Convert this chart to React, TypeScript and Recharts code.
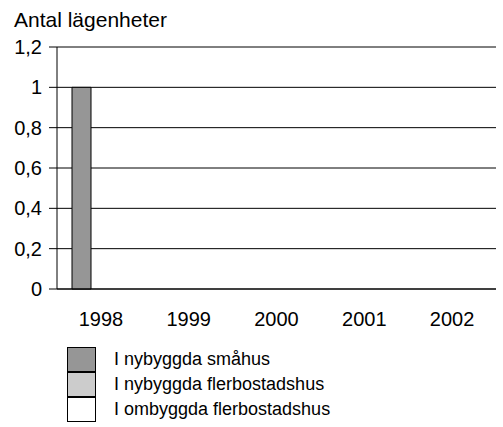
import { BarChart, Bar, XAxis, YAxis, CartesianGrid, Legend } from "recharts"

const years = ["1998", "1999", "2000", "2001", "2002"]
const nybyggdaSmahus = [1, 0, 0, 0, 0]
const nybyggdaFlerbostadshus = [0, 0, 0, 0, 0]
const ombyggdaFlerbostadshus = [0, 0, 0, 0, 0]
const yTicks = [0, 0.2, 0.4, 0.6, 0.8, 1, 1.2]
const seriesOrder = ["smahus", "fler", "om"]

const data = years.map((year, i) => ({
  year,
  smahus: nybyggdaSmahus[i],
  fler: nybyggdaFlerbostadshus[i],
  om: ombyggdaFlerbostadshus[i]
}))

const font = "'Liberation Sans', Arial, sans-serif"

function renderLegend(props: any) {
  // keep series order, not alphabetical
  const payload = [...props.payload].sort(
    (a: any, b: any) => seriesOrder.indexOf(a.dataKey) - seriesOrder.indexOf(b.dataKey)
  )
  return (
    <div style={{ fontFamily: font, fontSize: 18, color: "#000" }}>
      {payload.map((entry: any, i: number) => (
        <div key={i} style={{ display: "flex", alignItems: "center", height: 25 }}>
          <div
            style={{
              width: 29,
              height: 25,
              boxSizing: "border-box",
              background: entry.color,
              border: "1px solid #000",
              marginTop: i > 0 ? -1 : 0
            }}
          />
          <span style={{ marginLeft: 18, whiteSpace: "nowrap" }}>{entry.value}</span>
        </div>
      ))}
    </div>
  )
}

export default function App() {
  return (
    <div style={{ position: "absolute", left: 0, top: 0, width: 503, height: 427, background: "#fff" }}>
      <div
        style={{
          position: "absolute",
          left: 14,
          top: 9,
          fontFamily: font,
          fontSize: 21,
          lineHeight: "22px",
          color: "#000"
        }}
      >
        Antal lägenheter
      </div>
      <BarChart
        width={503}
        height={427}
        data={data}
        margin={{ top: 47, right: 7, bottom: 0, left: 0 }}
        barSize={19}
        barGap={0}
      >
        <CartesianGrid vertical={false} stroke="#000" strokeWidth={1} />
        <XAxis
          dataKey="year"
          axisLine={{ stroke: "#000" }}
          tickLine={false}
          tickSize={0}
          tickMargin={23}
          height={138}
          tick={{ fill: "#000", fontSize: 20, fontFamily: font }}
        />
        <YAxis
          domain={[0, 1.2]}
          ticks={yTicks}
          width={57}
          tickSize={8}
          tickMargin={7}
          axisLine={{ stroke: "#000" }}
          tickLine={{ stroke: "#000" }}
          tick={{ fill: "#000", fontSize: 20, fontFamily: font }}
          tickFormatter={(v: number) => String(v).replace(".", ",")}
        />
        <YAxis
          yAxisId="right"
          orientation="right"
          width={0}
          tick={false}
          tickLine={false}
          axisLine={{ stroke: "#000" }}
        />
        <Legend
          layout="vertical"
          align="center"
          verticalAlign="middle"
          content={renderLegend}
          wrapperStyle={{ left: 67, top: 347, width: 300 }}
        />
        <Bar dataKey="smahus" name="I nybyggda småhus" fill="#969696" stroke="#000" strokeWidth={1} isAnimationActive={false} />
        <Bar dataKey="fler" name="I nybyggda flerbostadshus" fill="#cccccc" stroke="#000" strokeWidth={1} isAnimationActive={false} />
        <Bar dataKey="om" name="I ombyggda flerbostadshus" fill="#ffffff" stroke="#000" strokeWidth={1} isAnimationActive={false} />
      </BarChart>
    </div>
  )
}
